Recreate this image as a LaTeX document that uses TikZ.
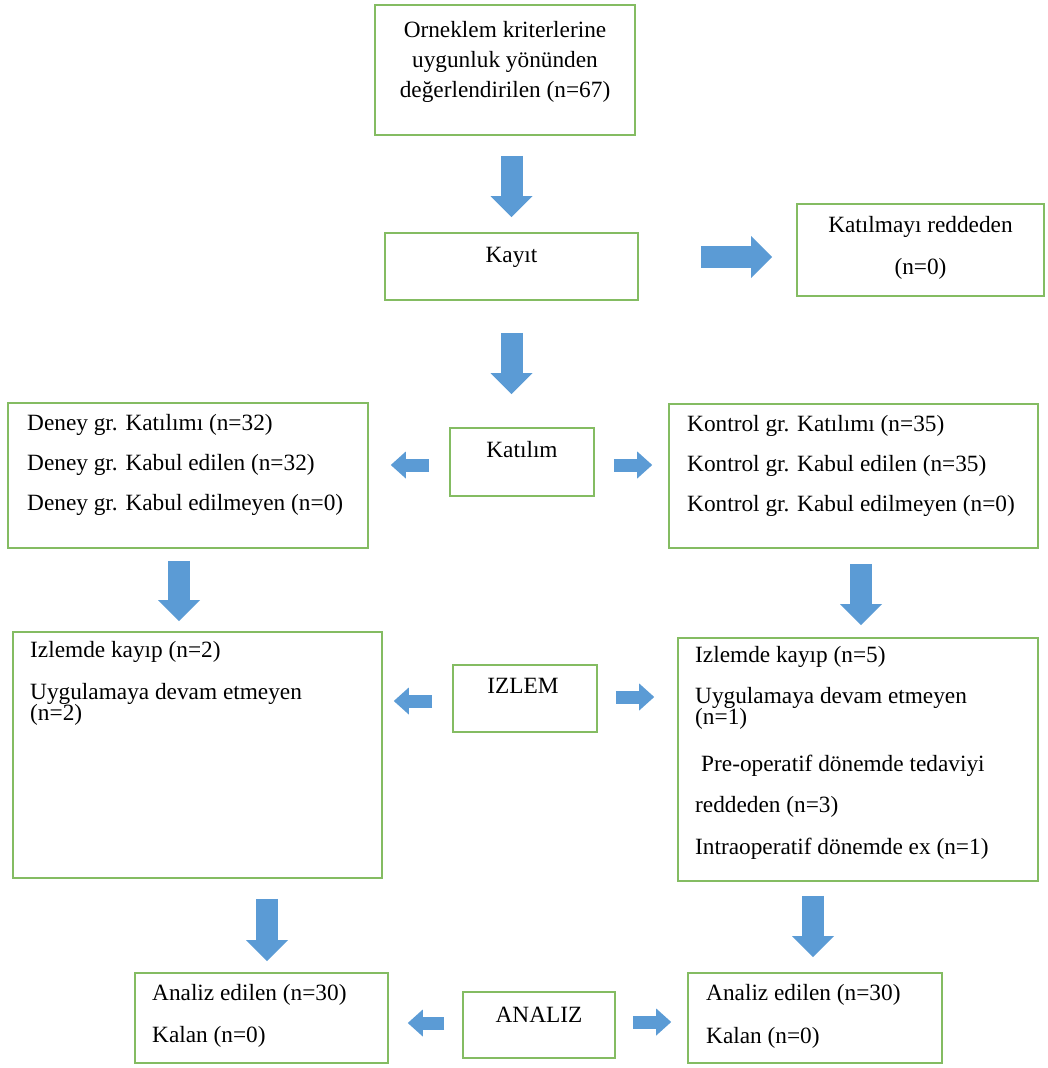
\documentclass[tikz,border=0pt]{standalone}
\usepackage{fontspec}
\setmainfont{Liberation Serif}
\usetikzlibrary{arrows.meta,calc}
\definecolor{flowGreen}{HTML}{84BC62}
\definecolor{flowBlue}{HTML}{5B9BD5}

\begin{document}
\begin{tikzpicture}[x=1pt,y=-1pt,
    font=\fontsize{23.3}{28}\selectfont,
    box/.style={draw=flowGreen,line width=1.6pt,inner sep=0pt},
    txt/.style={anchor=base west,inner sep=0pt},
    ctxt/.style={anchor=base,inner sep=0pt},
    bigarr/.style={-{Triangle[length=21pt,width=42pt,line width=0pt]},flowBlue,line width=22pt},
    smallarr/.style={-{Triangle[length=15pt,width=27pt,line width=0pt]},flowBlue,line width=13pt}]

  \useasboundingbox (0,0) rectangle (1048,1068);

  % boxes
  \node[box,minimum width=260pt,minimum height=130pt] (top)     at (505,70)      {};
  \node[box,minimum width=253pt,minimum height=67pt]  (kayit)   at (511.5,266.5) {};
  \node[box,minimum width=247pt,minimum height=92pt]  (red)     at (920.5,250)   {};
  \node[box,minimum width=360pt,minimum height=145pt] (deney)   at (188,475.5)   {};
  \node[box,minimum width=144pt,minimum height=68pt]  (katilim) at (522,462)     {};
  \node[box,minimum width=369pt,minimum height=144pt] (kontrol) at (853.5,476)   {};
  \node[box,minimum width=369pt,minimum height=246pt] (izlemL)  at (197.5,755)   {};
  \node[box,minimum width=144pt,minimum height=67pt]  (izlem)   at (525,698.5)   {};
  \node[box,minimum width=360pt,minimum height=243pt] (izlemR)  at (858,759.5)   {};
  \node[box,minimum width=253pt,minimum height=90pt]  (analizL) at (261.5,1018)  {};
  \node[box,minimum width=152pt,minimum height=66pt]  (analiz)  at (539,1025)    {};
  \node[box,minimum width=254pt,minimum height=90pt]  (analizR) at (815,1018)    {};

  % texts
  \node[ctxt] (top1) at (505,37) {Orneklem kriterlerine};
  \node[ctxt] (top2) at (505,67) {uygunluk yönünden};
  \node[ctxt] (top3) at (505,97) {değerlendirilen (n=67)};
  \node[ctxt] (kayit1) at (511.5,262) {Kayıt};
  \node[ctxt] (red1) at (920.5,232) {Katılmayı reddeden};
  \node[ctxt] (red2) at (920.5,274) {(n=0)};
  \node[txt] (deney1) at (27,430) {Deney gr. Katılımı (n=32)};
  \node[txt] (deney2) at (27,470) {Deney gr. Kabul edilen (n=32)};
  \node[txt] (deney3) at (27,510) {Deney gr. Kabul edilmeyen (n=0)};
  \node[ctxt] (katilim1) at (522,457) {Katılım};
  \node[txt] (kontrol1) at (687,431) {Kontrol gr. Katılımı (n=35)};
  \node[txt] (kontrol2) at (687,471) {Kontrol gr. Kabul edilen (n=35)};
  \node[txt] (kontrol3) at (687,511) {Kontrol gr. Kabul edilmeyen (n=0)};
  \node[txt] (izlemL1) at (30,657) {Izlemde kayıp (n=2)};
  \node[txt] (izlemL2) at (30,699) {Uygulamaya devam etmeyen};
  \node[txt] (izlemL3) at (30,720) {(n=2)};
  \node[ctxt] (izlem1) at (523,693) {IZLEM};
  \node[txt] (izlemR1) at (695,662) {Izlemde kayıp (n=5)};
  \node[txt] (izlemR2) at (695,703) {Uygulamaya devam etmeyen};
  \node[txt] (izlemR3) at (695,724) {(n=1)};
  \node[txt] (izlemR4) at (701,771) {Pre-operatif dönemde tedaviyi};
  \node[txt] (izlemR5) at (695,812) {reddeden (n=3)};
  \node[txt] (izlemR6) at (695,854) {Intraoperatif dönemde ex (n=1)};
  \node[txt] (analizL1) at (152,1000) {Analiz edilen (n=30)};
  \node[txt] (analizL2) at (152,1042) {Kalan (n=0)};
  \node[ctxt] (analiz1) at (539,1022) {ANALIZ};
  \node[txt] (analizR1) at (706,1000) {Analiz edilen (n=30)};
  \node[txt] (analizR2) at (706,1043) {Kalan (n=0)};

  % block arrows
  \draw[bigarr] ($(top.south -| kayit.north)+(0,20)$) -- ($(kayit.north)+(0,-15)$);
  \draw[bigarr] ($(kayit.south)+(0,32)$) -- ($(katilim.north -| kayit.south)+(0,-33)$);
  \draw[bigarr] ($(kayit.east)+(62,-9.5)$) -- ($(red.west |- kayit.east)+(-24,-9.5)$);
  \draw[smallarr] ($(katilim.west)+(-20,3)$) -- ($(deney.east |- katilim.west)+(22,3)$);
  \draw[smallarr] ($(katilim.east)+(19,3)$) -- ($(kontrol.west |- katilim.east)+(-16,3)$);
  \draw[bigarr] ($(deney.south)+(-9,12)$) -- ($(izlemL.north -| deney.south)+(-9,-10)$);
  \draw[bigarr] ($(kontrol.south)+(7.5,15)$) -- ($(izlemR.north -| kontrol.south)+(7.5,-12)$);
  \draw[smallarr] ($(izlem.west)+(-20,2.5)$) -- ($(izlemL.east |- izlem.west)+(11,2.5)$);
  \draw[smallarr] ($(izlem.east)+(18,-1.5)$) -- ($(izlemR.west |- izlem.east)+(-23,-1.5)$);
  \draw[bigarr] ($(izlemL.south -| analizL.north)+(5.5,20)$) -- ($(analizL.north)+(5.5,-11)$);
  \draw[bigarr] ($(izlemR.south -| analizR.north)+(-2,14)$) -- ($(analizR.north)+(-2,-15)$);
  \draw[smallarr] ($(analiz.west)+(-18,-2)$) -- ($(analizL.east |- analiz.west)+(19,-2)$);
  \draw[smallarr] ($(analiz.east)+(17,-3)$) -- ($(analizR.west |- analiz.east)+(-16,-3)$);
\end{tikzpicture}
\end{document}
